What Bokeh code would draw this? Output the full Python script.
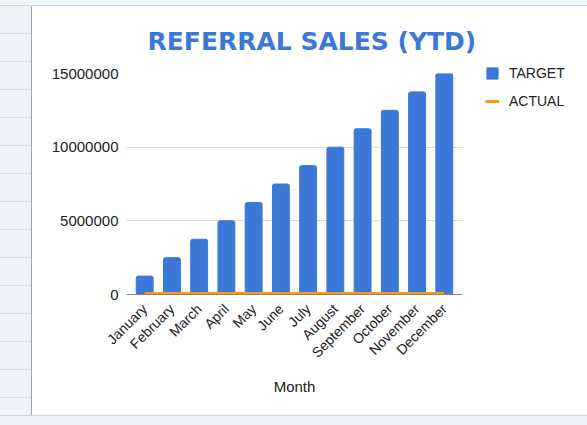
from bokeh.plotting import figure
from bokeh.models import (FactorRange, Range1d, FixedTicker, BasicTickFormatter,
                          Legend, LegendItem, ColumnDataSource, Div)
from bokeh.layouts import row, column
from bokeh.embed import file_html
from bokeh.resources import INLINE
import math

months = ["January", "February", "March", "April", "May", "June", "July",
          "August", "September", "October", "November", "December"]
target = [1250000, 2500000, 3750000, 5000000, 6250000, 7500000, 8750000,
          10000000, 11250000, 12500000, 13750000, 15000000]
actual = [60000, 60000, 60000, 60000, 60000, 60000, 60000, 60000, 60000,
          60000, 60000, 60000]
y_ticks = [0, 5000000, 10000000, 15000000]
series_names = ["TARGET", "ACTUAL"]

BLUE = "#3c78d8"
ORANGE = "#ff9900"
FONT = "Liberation Sans"
TXT = "#222222"

src = ColumnDataSource(dict(month=months, target=target, actual=actual))

p = figure(width=453, height=409, output_backend="svg", toolbar_location=None,
           x_range=FactorRange(*months, range_padding=0.028),
           y_range=Range1d(0, 15000000),
           title="REFERRAL SALES (YTD)")
p.min_border_left = 94
p.min_border_right = 23
p.min_border_top = 67
p.min_border_bottom = 121
p.outline_line_color = None
p.background_fill_color = "white"
p.border_fill_color = "white"

p.title.align = "left"
p.title.offset = 21
p.title.standoff = 36
p.title.text_font = "DejaVu Sans"
p.title.text_font_size = "25px"
p.title.text_font_style = "bold"
p.title.text_color = BLUE

bars = p.vbar(x="month", top="target", width=0.62, source=src, color=BLUE,
              border_radius=2)
ln = p.line(x="month", y="actual", source=src, color=ORANGE, line_width=3)

p.xgrid.grid_line_color = None
p.ygrid.grid_line_color = "#d9d9d9"
p.ygrid.ticker = FixedTicker(ticks=y_ticks)

p.yaxis.ticker = FixedTicker(ticks=y_ticks)
p.yaxis.formatter = BasicTickFormatter(use_scientific=False)
p.yaxis.axis_line_color = None
p.yaxis.major_tick_line_color = None
p.yaxis.minor_tick_line_color = None
p.yaxis.major_label_standoff = 2
p.yaxis.major_label_text_font = FONT
p.yaxis.major_label_text_font_size = "15px"
p.yaxis.major_label_text_color = TXT

p.xaxis.axis_line_color = "#888888"
p.xaxis.axis_line_width = 1
p.xaxis.major_tick_line_color = None
p.xaxis.minor_tick_line_color = None
p.xaxis.major_label_orientation = math.pi / 4
p.xaxis.major_label_standoff = 6
p.xaxis.major_label_text_font = FONT
p.xaxis.major_label_text_font_size = "14px"
p.xaxis.major_label_text_color = TXT
p.xaxis.axis_label = "Month"
p.xaxis.axis_label_text_font = FONT
p.xaxis.axis_label_text_font_size = "15px"
p.xaxis.axis_label_text_font_style = "normal"
p.xaxis.axis_label_text_color = TXT
p.xaxis.axis_label_standoff = 9

# legend panel: a small figure whose swatch renderers lie outside its ranges
lg = figure(width=102, height=409, output_backend="svg", toolbar_location=None,
            x_range=Range1d(-2, -1), y_range=Range1d(-2, -1),
            min_border=0)
lg.min_border_top = 59
lg.axis.visible = False
lg.grid.grid_line_color = None
lg.outline_line_color = None
lg.border_fill_color = "white"
sw_bar = lg.vbar(x="target", top="target", width=1, source=src, color=BLUE)
sw_line = lg.line(x="target", y="actual", source=src, color=ORANGE, line_width=3)

legend = Legend(items=[LegendItem(label=series_names[0], renderers=[sw_bar]),
                       LegendItem(label=series_names[1], renderers=[sw_line])],
                location="top_left")
legend.border_line_color = None
legend.background_fill_alpha = 0
legend.padding = 0
legend.margin = 0
legend.spacing = 12
legend.glyph_width = 14
legend.glyph_height = 14
legend.label_height = 14
legend.label_standoff = 10
legend.label_text_font = FONT
legend.label_text_font_size = "14px"
legend.label_text_color = TXT
lg.add_layout(legend)

GRID_BG = "#eef2f9"
left_strip = Div(width=32, height=409, margin=0,
                 styles={"background-color": GRID_BG,
                         "border-right": "1px solid #a0a4ab",
                         "box-sizing": "border-box",
                         "background-image": "repeating-linear-gradient(to bottom, transparent 0px, transparent 27px, #d8dde6 27px, #d8dde6 28px)"})
top_strip = Div(width=587, height=6, margin=0,
                styles={"background-color": GRID_BG,
                        "border-bottom": "1px solid #d0d4db",
                        "box-sizing": "border-box"})
bottom_strip = Div(width=587, height=10, margin=0,
                   styles={"background-color": GRID_BG,
                           "border-top": "1px solid #d0d4db",
                           "box-sizing": "border-box"})

layout = column(top_strip, row(left_strip, p, column(lg, spacing=0), spacing=0),
                bottom_strip, spacing=0)

open("out.html", "w").write(file_html(layout, INLINE))
